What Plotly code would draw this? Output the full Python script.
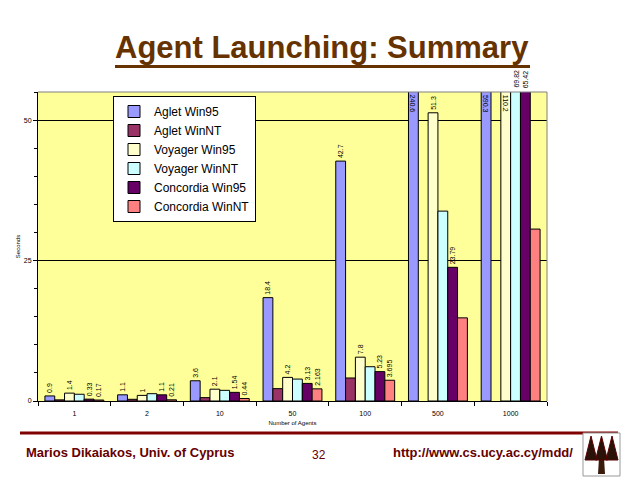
import plotly.graph_objects as go

# Agent launching times (seconds) per number of agents
categories = ["1", "2", "10", "50", "100", "500", "1000"]

aglet_win95 = [0.9, 1.1, 3.6, 18.4, 42.7, 240.6, 590.3]
aglet_winnt = [0.2, 0.3, 0.6, 2.2, 4.1, None, None]
voyager_win95 = [1.4, 1.0, 2.1, 4.2, 7.8, 51.3, 110.2]
voyager_winnt = [1.2, 1.3, 1.9, 3.9, 6.1, 33.8, 69.82]
concordia_win95 = [0.33, 1.1, 1.54, 3.13, 5.23, 23.79, 65.42]
concordia_winnt = [0.17, 0.21, 0.44, 2.163, 3.695, 14.8, 30.6]

# which points carry a data label in the original slide
labelled = {
    "Aglet Win95": [1, 1, 1, 1, 1, 1, 1],
    "Aglet WinNT": [0, 0, 0, 0, 0, 0, 0],
    "Voyager Win95": [1, 1, 1, 1, 1, 1, 1],
    "Voyager WinNT": [0, 0, 0, 0, 0, 0, 1],
    "Concordia Win95": [1, 1, 1, 1, 1, 1, 1],
    "Concordia WinNT": [1, 1, 1, 1, 1, 0, 0],
}

series = [
    ("Aglet Win95", aglet_win95, "#9999FF"),
    ("Aglet WinNT", aglet_winnt, "#993366"),
    ("Voyager Win95", voyager_win95, "#FFFFCC"),
    ("Voyager WinNT", voyager_winnt, "#CCFFFF"),
    ("Concordia Win95", concordia_win95, "#660066"),
    ("Concordia WinNT", concordia_winnt, "#FF8080"),
]

y_max = 55
bar_gap = 0.19

# plot area in page pixels (the html body adds an 8px margin)
L, R, T, B = 38, 547, 92, 401
OFF = 8
W, H = 640 - OFF, 480 - OFF


def px(x):
    return (x - L) / (R - L)


def py(y):
    return (B - y) / (B - T)


bar_px = (R - L) / len(categories) * (1 - bar_gap) / len(series)

fig = go.Figure()
for i, (name, vals, color) in enumerate(series):
    text = []
    for j, (v, show) in enumerate(zip(vals, labelled[name])):
        if not show or v is None:
            text.append("")
            continue
        if v <= y_max:
            text.append("{:g}".format(v))
            continue
        # bar runs off the top of the axis: label it at the top edge
        text.append("")
        inside = v > 100
        fig.add_annotation(
            x=j, y=y_max, xref="x", yref="y", showarrow=False,
            xshift=(i - (len(series) - 1) / 2) * bar_px,
            yshift=-1 if inside else 2,
            text="{:g}".format(v), textangle=90 if inside else -90,
            xanchor="center", yanchor="top" if inside else "bottom",
            font=dict(family="Arial", size=7, color="black"),
        )
    fig.add_trace(go.Bar(
        x=categories, y=vals, name=name,
        marker=dict(color=color, line=dict(color="black", width=1)),
        text=text, textposition="outside", textangle=-90,
        constraintext="none", cliponaxis=False,
        textfont=dict(family="Arial", size=7, color="black"),
    ))

fig.update_layout(
    width=W, height=H,
    margin=dict(l=L - OFF, r=W - (R - OFF), t=T - OFF, b=H - (B - OFF), autoexpand=False),
    paper_bgcolor="white",
    plot_bgcolor="#FFFF99",
    barmode="group",
    bargap=bar_gap,
    bargroupgap=0,
    font=dict(family="Arial", color="black"),
    legend=dict(
        x=px(113), y=py(96), xanchor="left", yanchor="top",
        bgcolor="white", bordercolor="black", borderwidth=1,
        font=dict(family="Arial", size=12, color="black"),
    ),
    xaxis=dict(
        type="category", categoryorder="array", categoryarray=categories,
        range=[-0.5, len(categories) - 0.5],
        tickson="boundaries", ticks="outside", ticklen=4,
        tickcolor="black", showline=True, linecolor="black", linewidth=1,
        showgrid=False, tickfont=dict(size=7), ticklabelstandoff=6,
        title=dict(text="Number of Agents", font=dict(size=6), standoff=4),
    ),
    yaxis=dict(
        range=[0, y_max], dtick=25, ticks="outside", ticklen=4, tickcolor="black",
        minor=dict(dtick=5, ticks="outside", ticklen=3, tickcolor="black", showgrid=False),
        showline=True, linecolor="black", linewidth=1,
        showgrid=True, gridcolor="black", gridwidth=1, zeroline=False,
        tickfont=dict(size=7),
        title=dict(text="Seconds", font=dict(size=6), standoff=2),
    ),
)

# grey plot-area border on top and right
fig.add_shape(type="line", xref="paper", yref="paper", x0=0, x1=1, y0=1, y1=1,
              line=dict(color="#808080", width=1))
fig.add_shape(type="line", xref="paper", yref="paper", x0=1, x1=1, y0=0, y1=1,
              line=dict(color="#808080", width=1))

# slide title with thick underline
fig.add_annotation(xref="paper", yref="paper", x=px(322), y=py(48), xanchor="center", yanchor="middle",
                   showarrow=False, text="<b>Agent Launching: Summary</b>",
                   font=dict(family="Arial", size=31, color="#663300"))
fig.add_shape(type="line", xref="paper", yref="paper", x0=px(115), x1=px(530), y0=py(66.5), y1=py(66.5),
              line=dict(color="#663300", width=3))

# footer
fig.add_shape(type="line", xref="paper", yref="paper", x0=px(20), x1=px(618), y0=py(433), y1=py(433),
              line=dict(color="#800000", width=3))
fig.add_annotation(xref="paper", yref="paper", x=px(24), y=py(452), xanchor="left", yanchor="middle",
                   showarrow=False, text="<b>Marios Dikaiakos, Univ. of Cyprus</b>",
                   font=dict(family="Arial", size=13, color="#660000"))
fig.add_annotation(xref="paper", yref="paper", x=px(319), y=py(455), xanchor="center", yanchor="middle",
                   showarrow=False, text="32", font=dict(family="Arial", size=12, color="#660000"))
fig.add_annotation(xref="paper", yref="paper", x=px(391), y=py(452), xanchor="left", yanchor="middle",
                   showarrow=False, text="<b>http://www.cs.ucy.ac.cy/mdd/</b>",
                   font=dict(family="Arial", size=13, color="#660000"))

# small tree logo
fig.add_shape(type="rect", xref="paper", yref="paper", x0=px(583), x1=px(620), y0=py(476), y1=py(433),
              line=dict(color="#999999", width=1), fillcolor="white")
fig.add_shape(type="path", xref="paper", yref="paper",
              path="M {} {} L {} {} L {} {} L {} {} Z".format(px(598), py(474), px(605), py(474),
                                                             px(604), py(458), px(599), py(458)),
              line=dict(width=0), fillcolor="#3a1a0a")
for cx in (591, 601.5, 612):
    fig.add_shape(type="path", xref="paper", yref="paper",
                  path="M {} {} L {} {} L {} {} Z".format(px(cx), py(436), px(cx - 6), py(460), px(cx + 6), py(460)),
                  line=dict(color="#5a0000", width=1), fillcolor="#2a1208")

fig.write_html("out.html")
